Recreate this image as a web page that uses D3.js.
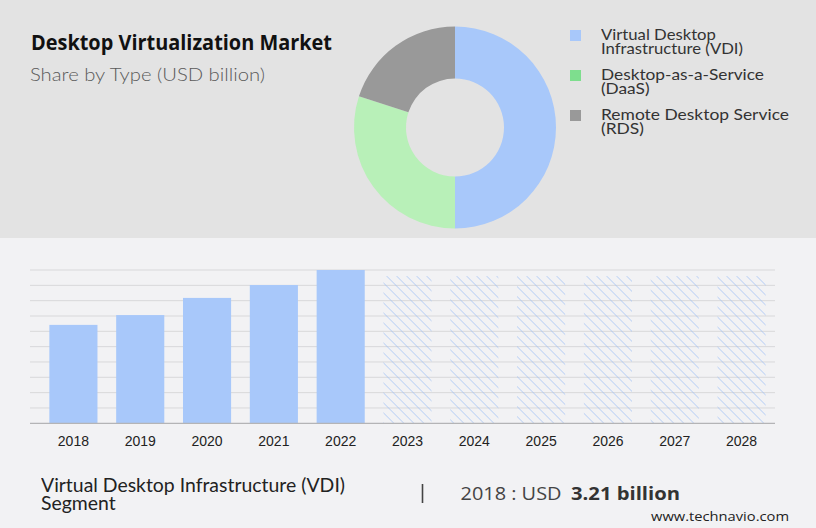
<!DOCTYPE html>
<html>
<head>
<meta charset="utf-8">
<script src="https://cdn.jsdelivr.net/npm/d3@7/dist/d3.min.js"></script>
<style>
  html, body { margin: 0; padding: 0; background: #f2f2f4; }
  body { position: relative; width: 816px; height: 528px; overflow: hidden; }
  svg { display: block; position: absolute; left: 0; top: 0; }
  .ml { position: absolute; white-space: pre; transform-origin: 0 0; margin: 0; padding: 0; }
</style>
</head>
<body>
<script>
// ---------- data ----------
const segments = ["Virtual Desktop Infrastructure (VDI)", "Desktop-as-a-Service (DaaS)", "Remote Desktop Service (RDS)"];
const legendLines = [["Virtual Desktop", "Infrastructure (VDI)"], ["Desktop-as-a-Service", "(DaaS)"], ["Remote Desktop Service", "(RDS)"]];
const shares = [50, 30, 20];
const donutColors = ["#a8c8fa", "#b8f0b8", "#999999"];
const legendColors = ["#a8c8fa", "#7ede8e", "#999999"];

const years = ["2018", "2019", "2020", "2021", "2022", "2023", "2024", "2025", "2026", "2027", "2028"];
const historicYears = ["2018", "2019", "2020", "2021", "2022"];
const historicValues = [3.21, 3.53, 4.09, 4.51, 5.0];
const forecastYears = ["2023", "2024", "2025", "2026", "2027", "2028"];
const forecastValues = [4.8, 4.8, 4.8, 4.8, 4.8, 4.8];
const gridTicks = [0, 0.5, 1, 1.5, 2, 2.5, 3, 3.5, 4, 4.5, 5];

// ---------- svg ----------
const W = 816, H = 528;
const svg = d3.select("body").append("svg").attr("width", W).attr("height", H);

const defs = svg.append("defs");
const pat = defs.append("pattern")
  .attr("id", "hatch").attr("patternUnits", "userSpaceOnUse")
  .attr("width", 7.07).attr("height", 7.07)
  .attr("patternTransform", "rotate(-45)");
pat.append("line").attr("x1", 0).attr("y1", 0).attr("x2", 0).attr("y2", 7.07)
  .attr("stroke", "#9dbff6").attr("stroke-width", 1.1);

// backgrounds
svg.append("rect").attr("x", 0).attr("y", 0).attr("width", W).attr("height", 238).attr("fill", "#e3e3e3");
svg.append("rect").attr("x", 0).attr("y", 238).attr("width", W).attr("height", H - 238).attr("fill", "#f2f2f4");

// titles
svg.append("text").attr("x", 31).attr("y", 50)
  .attr("font-family", "'Open Sans', sans-serif").attr("font-weight", 700)
  .attr("font-size", 20.5).attr("fill", "#111")
  .attr("textLength", 301).attr("lengthAdjust", "spacingAndGlyphs")
  .text("Desktop Virtualization Market");
svg.append("text").attr("x", 30).attr("y", 80.5)
  .attr("font-family", "Lato, sans-serif").attr("font-weight", 300)
  .attr("font-size", 18.5).attr("fill", "#5a5a5a")
  .attr("textLength", 235).attr("lengthAdjust", "spacingAndGlyphs")
  .text("Share by Type (USD billion)");

// ---------- donut ----------
const pie = d3.pie().sort(null).value(d => d)(shares);
const arc = d3.arc().innerRadius(49).outerRadius(101);
svg.append("g").attr("transform", "translate(455,127.5)")
  .selectAll("path").data(pie).join("path")
  .attr("d", arc).attr("fill", (d, i) => donutColors[i]);

// multi-line text helper (one element per label, lines joined by newline)
function multiLine(lines, left, firstBaseline, fontSize, lineH, targetW, color, family) {
  const div = d3.select("body").append("div").attr("class", "ml")
    .style("font-family", family).style("font-size", fontSize + "px")
    .style("line-height", lineH + "px").style("color", color)
    .text(lines.join("\n"));
  const node = div.node();
  const natW = node.getBoundingClientRect().width;
  // baseline offset for first line
  const probe = d3.select("body").append("span")
    .style("position", "absolute").style("font-family", family)
    .style("font-size", fontSize + "px").style("line-height", lineH + "px")
    .style("display", "inline-block");
  probe.append("span").text("H");
  const base = probe.append("span").style("display", "inline-block").style("width", "0").style("height", "0");
  const pr = probe.node().getBoundingClientRect();
  const br = base.node().getBoundingClientRect();
  const baselineOff = br.top - pr.top;
  probe.remove();
  div.style("left", left + "px").style("top", (firstBaseline - baselineOff) + "px")
    .style("transform", `scaleX(${targetW / natW})`);
}

// legend
const legendWidths = [142, 163, 188];
const lg = svg.append("g");
legendLines.forEach((lines, i) => {
  const y0 = 30 + i * 40;
  lg.append("rect").attr("x", 570).attr("y", y0).attr("width", 11).attr("height", 11).attr("fill", legendColors[i]);
  multiLine(lines, 601, y0 + 9.5, 15, 14, legendWidths[i], "#333", "Lato, sans-serif");
});

// ---------- bars ----------
const x = d3.scaleBand().domain(years).range([40, 775]).paddingInner(0.28).paddingOuter(0.14);
const y = d3.scaleLinear().domain([0, 5]).range([423.3, 270]);

svg.append("g").selectAll("line").data(gridTicks.slice(1)).join("line")
  .attr("x1", 30).attr("x2", 775)
  .attr("y1", d => y(d)).attr("y2", d => y(d))
  .attr("stroke", "#d8d8da").attr("stroke-width", 1);

svg.append("g").selectAll("rect").data(historicYears).join("rect")
  .attr("x", d => x(d)).attr("width", x.bandwidth())
  .attr("y", (d, i) => y(historicValues[i]))
  .attr("height", (d, i) => y(0) - y(historicValues[i]))
  .attr("fill", "#a8c8fa");

svg.append("g").selectAll("rect").data(forecastYears).join("rect")
  .attr("x", d => x(d)).attr("width", x.bandwidth())
  .attr("y", (d, i) => y(forecastValues[i]))
  .attr("height", (d, i) => y(0) - y(forecastValues[i]))
  .attr("fill", "url(#hatch)");

// baseline
svg.append("line").attr("x1", 30).attr("x2", 775).attr("y1", y(0)).attr("y2", y(0))
  .attr("stroke", "#b4b4b6").attr("stroke-width", 1.3);

// x axis labels
const xAxis = d3.axisBottom(x).tickSize(0).tickPadding(0);
const ax = svg.append("g").attr("transform", `translate(0,${y(0)})`).call(xAxis);
ax.select(".domain").remove();
ax.selectAll("text")
  .attr("y", 0).attr("dy", 0)
  .attr("transform", "translate(0,22.5)")
  .attr("font-family", "'Liberation Sans', Arial, sans-serif")
  .attr("font-size", 14).attr("fill", "#222");

// ---------- footer ----------
multiLine(["Virtual Desktop Infrastructure (VDI)", "Segment"], 41, 491.5, 18.5, 18.5, 304, "#222", "Lato, sans-serif");

svg.append("line").attr("x1", 422.5).attr("x2", 422.5).attr("y1", 484).attr("y2", 503)
  .attr("stroke", "#444").attr("stroke-width", 1.6);

svg.append("text").attr("x", 460.5).attr("y", 499.5)
  .attr("font-family", "'Open Sans', sans-serif").attr("font-size", 18.5).attr("fill", "#444")
  .attr("textLength", 101).attr("lengthAdjust", "spacingAndGlyphs")
  .text(`${historicYears[0]} : USD`);
svg.append("text").attr("x", 571).attr("y", 499.5)
  .attr("font-family", "'Open Sans', sans-serif").attr("font-weight", 700).attr("font-size", 18.5).attr("fill", "#333")
  .attr("textLength", 109).attr("lengthAdjust", "spacingAndGlyphs")
  .text(`${historicValues[0].toFixed(2)} billion`);

svg.append("text").attr("x", 651).attr("y", 520.5)
  .attr("font-family", "'Open Sans', sans-serif").attr("font-size", 13.5).attr("fill", "#222")
  .attr("textLength", 138).attr("lengthAdjust", "spacingAndGlyphs")
  .text("www.technavio.com");
</script>
</body>
</html>
